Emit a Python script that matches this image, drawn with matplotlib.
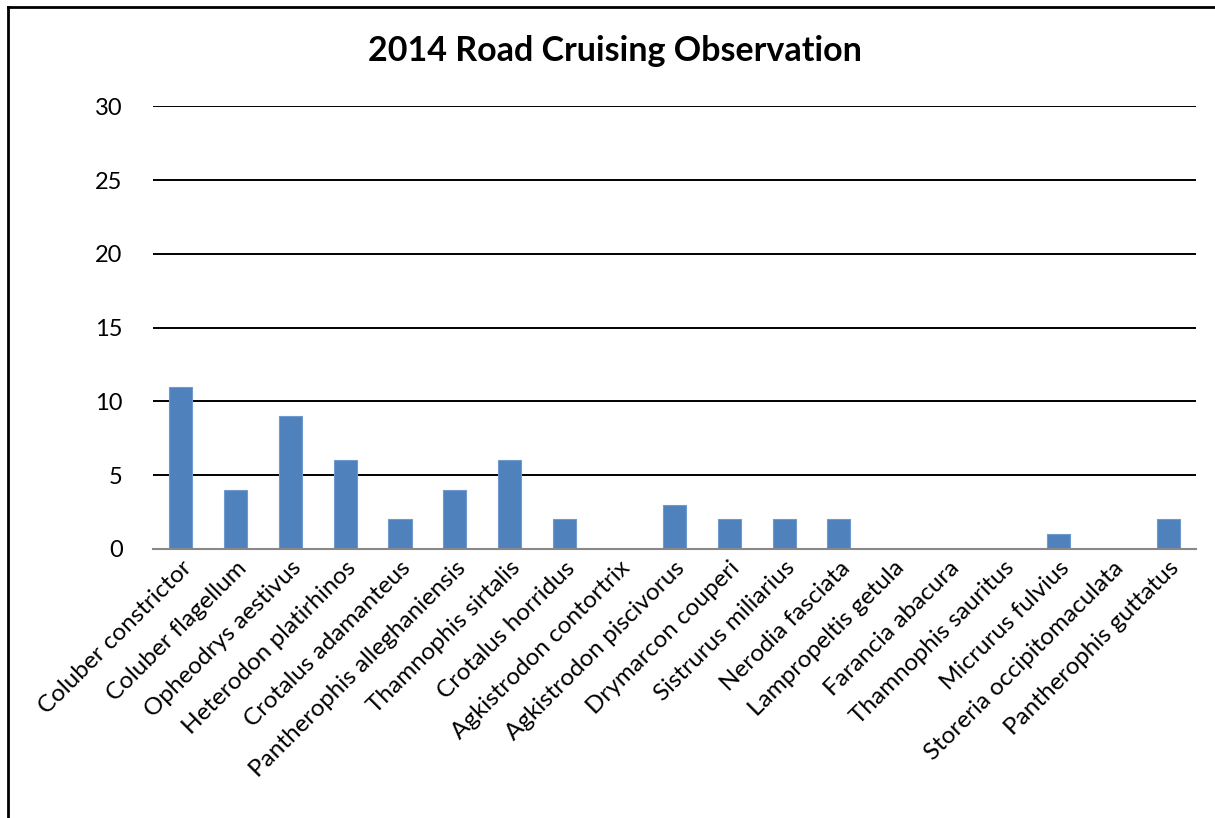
import numpy as np
import matplotlib.pyplot as plt
from matplotlib.lines import Line2D

species = ['Coluber constrictor', 'Coluber flagellum', 'Opheodrys aestivus',
           'Heterodon platirhinos', 'Crotalus adamanteus', 'Pantherophis alleghaniensis',
           'Thamnophis sirtalis', 'Crotalus horridus', 'Agkistrodon contortrix',
           'Agkistrodon piscivorus', 'Drymarcon couperi', 'Sistrurus miliarius',
           'Nerodia fasciata', 'Lampropeltis getula', 'Farancia abacura',
           'Thamnophis sauritus', 'Micrurus fulvius', 'Storeria occipitomaculata',
           'Pantherophis guttatus']
counts = [11, 4, 9, 6, 2, 4, 6, 2, 0, 3, 2, 2, 2, 0, 0, 0, 1, 0, 2]
yticks = [0, 5, 10, 15, 20, 25, 30]

plt.rcParams['font.family'] = ['Lato', 'DejaVu Sans']

fig = plt.figure(figsize=(12.15, 8.18), dpi=100)
ax = fig.add_axes([0.126, 0.329, 0.858, 0.541])

x = np.arange(len(species))
ax.bar(x, counts, width=0.42, color='#4F81BD', edgecolor='#6E9AD0', linewidth=0.8, zorder=3)

ax.set_ylim(0, 30)
ax.set_xlim(-0.5, len(species) - 0.5)
ax.set_yticks(yticks)
ax.set_yticklabels([str(t) for t in yticks], fontsize=17)
ax.yaxis.grid(True, color='black', linewidth=1.4, zorder=1)
ax.set_xticks(x)
ax.set_xticklabels(species, rotation=45, ha='right', rotation_mode='anchor', fontsize=17.5)
ax.tick_params(axis='y', length=0, pad=22)
ax.tick_params(axis='x', length=0, pad=6)

for s in ['top', 'right', 'left']:
    ax.spines[s].set_visible(False)
ax.spines['bottom'].set_color('#888888')
ax.spines['bottom'].set_linewidth(1.5)
ax.spines['bottom'].set_zorder(4)

fig.text(0.506, 0.938, '2014 Road Cruising Observation', ha='center', va='center',
         fontsize=24.5, fontweight='bold')

# outer chart frame (cut at right and bottom)
fig.add_artist(Line2D([8 / 1215, 8 / 1215], [0, 1 - 7 / 818], color='black', linewidth=2))
fig.add_artist(Line2D([8 / 1215, 1], [1 - 7 / 818, 1 - 7 / 818], color='black', linewidth=2))

fig.savefig('out.png', dpi=100)
